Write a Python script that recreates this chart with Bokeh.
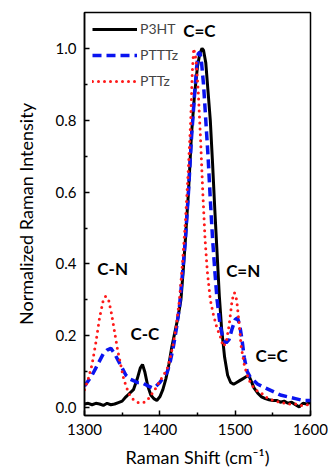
from bokeh.plotting import figure
from bokeh.models import Range1d, FixedTicker, Label, Legend, LegendItem
from bokeh.embed import file_html
from bokeh.resources import INLINE

# ---------------- data ----------------
p3ht_x = [1300, 1305, 1310, 1315, 1320, 1325, 1330, 1335, 1340, 1345, 1350, 1355,
          1360, 1365, 1370, 1374, 1377, 1380, 1384, 1388, 1392, 1396, 1400, 1404,
          1408, 1412, 1416, 1420, 1424, 1428, 1431, 1434, 1438, 1442, 1446, 1450,
          1453, 1456, 1458, 1461, 1464, 1467, 1470, 1473, 1476, 1479, 1482, 1486,
          1490, 1494, 1498, 1502, 1506, 1510, 1514, 1518, 1521, 1525, 1530, 1535,
          1540, 1545, 1550, 1555, 1560, 1565, 1570, 1575, 1580, 1585, 1590, 1595, 1600]
p3ht_y = [0.010, 0.012, 0.008, 0.012, 0.010, 0.006, 0.012, 0.008, 0.010, 0.014, 0.018, 0.030,
          0.040, 0.050, 0.080, 0.110, 0.120, 0.100, 0.060, 0.035, 0.025, 0.020, 0.030, 0.050,
          0.080, 0.120, 0.170, 0.210, 0.250, 0.300, 0.380, 0.470, 0.600, 0.760, 0.870, 0.950,
          0.985, 1.000, 0.995, 0.960, 0.880, 0.800, 0.680, 0.550, 0.430, 0.310, 0.220, 0.140,
          0.090, 0.070, 0.065, 0.070, 0.075, 0.080, 0.085, 0.090, 0.075, 0.055, 0.040, 0.030,
          0.025, 0.022, 0.020, 0.020, 0.015, 0.018, 0.012, 0.015, 0.008, 0.002, 0.012, 0.010, 0.015]

ptttz_x = [1300, 1305, 1310, 1315, 1320, 1325, 1330, 1335, 1340, 1345, 1350, 1355,
           1360, 1365, 1370, 1375, 1380, 1385, 1390, 1395, 1400, 1405, 1410, 1414,
           1418, 1422, 1426, 1430, 1434, 1438, 1442, 1446, 1449, 1451, 1453, 1455,
           1458, 1461, 1464, 1467, 1470, 1473, 1476, 1480, 1484, 1488, 1492, 1496,
           1500, 1503, 1506, 1509, 1512, 1516, 1520, 1525, 1530, 1540, 1550, 1560,
           1570, 1580, 1590, 1600]
ptttz_y = [0.060, 0.075, 0.090, 0.110, 0.130, 0.150, 0.160, 0.165, 0.150, 0.130, 0.110, 0.090,
           0.080, 0.075, 0.070, 0.070, 0.065, 0.060, 0.055, 0.060, 0.070, 0.085, 0.100, 0.130,
           0.170, 0.220, 0.280, 0.370, 0.470, 0.600, 0.750, 0.870, 0.950, 0.985, 0.990, 0.970,
           0.900, 0.800, 0.700, 0.580, 0.470, 0.380, 0.300, 0.230, 0.190, 0.180, 0.190, 0.220,
           0.245, 0.250, 0.230, 0.190, 0.140, 0.100, 0.085, 0.075, 0.065, 0.055, 0.045, 0.035,
           0.030, 0.025, 0.020, 0.020]

pttz_x = [1300, 1305, 1310, 1315, 1320, 1325, 1328, 1332, 1336, 1340, 1344, 1348,
          1352, 1356, 1360, 1365, 1370, 1375, 1380, 1385, 1390, 1395, 1400, 1405,
          1410, 1414, 1418, 1422, 1426, 1430, 1434, 1438, 1441, 1443, 1445, 1448,
          1451, 1454, 1457, 1460, 1463, 1467, 1471, 1476, 1480, 1484, 1488, 1492,
          1496, 1499, 1502, 1505, 1508, 1512, 1516, 1520, 1525, 1530, 1535, 1540,
          1550, 1560, 1570, 1580, 1590, 1600]
pttz_y = [0.050, 0.080, 0.120, 0.180, 0.250, 0.300, 0.310, 0.300, 0.260, 0.210, 0.160, 0.120,
          0.080, 0.055, 0.035, 0.022, 0.015, 0.013, 0.015, 0.025, 0.040, 0.055, 0.075, 0.090,
          0.110, 0.140, 0.180, 0.230, 0.300, 0.400, 0.520, 0.670, 0.800, 0.930, 1.000, 0.970,
          0.880, 0.750, 0.600, 0.470, 0.380, 0.300, 0.260, 0.220, 0.200, 0.170, 0.180, 0.230,
          0.300, 0.320, 0.300, 0.240, 0.170, 0.120, 0.090, 0.070, 0.055, 0.045, 0.040, 0.030,
          0.020, 0.015, 0.010, 0.010, 0.005, 0.010]

series_names = ["P3HT", "PTTTz", "PTTz"]

x_ticks = [1300, 1400, 1500, 1600]
x_minor = [1350, 1450, 1550]
y_ticks = [0.0, 0.2, 0.4, 0.6, 0.8, 1.0]
y_minor = [0.1, 0.3, 0.5, 0.7, 0.9]

# annotation texts and their anchor points (data units, left / middle)
ann_text = ["C=C", "C-N", "C-C", "C=N", "C=C"]
ann_x = [1431, 1317, 1361, 1488, 1527]
ann_y = [1.05, 0.386, 0.205, 0.383, 0.144]

# ---------------- figure ----------------
FONT = "Lato"

p = figure(width=328, height=470, output_backend="svg", toolbar_location=None,
           x_range=Range1d(1300, 1600), y_range=Range1d(-0.022, 1.1),
           min_border_left=84, min_border_right=18, min_border_top=12, min_border_bottom=54)
p.background_fill_color = "white"
p.border_fill_color = "white"
p.xgrid.visible = False
p.ygrid.visible = False
p.outline_line_color = "black"
p.outline_line_width = 1.5
p.outline_line_alpha = 1.0

r1 = p.line(p3ht_x, p3ht_y, line_color="black", line_width=3)
r2 = p.line(ptttz_x, ptttz_y, line_color="#0a14f0", line_width=3.5, line_dash="9 5")
r3 = p.line(pttz_x, pttz_y, line_color="#ff1a1a", line_width=3, line_dash="0 6",
            line_cap="round")

for ax in (p.xaxis[0], p.yaxis[0]):
    ax.axis_line_width = 1.5
    ax.major_tick_line_width = 1.5
    ax.minor_tick_line_width = 1.5
    ax.major_tick_in = 5
    ax.major_tick_out = 0
    ax.minor_tick_in = 3
    ax.minor_tick_out = 0
    ax.major_label_text_font = FONT
    ax.major_label_text_font_size = "15px"
    ax.major_label_text_color = "black"
    ax.axis_label_text_font = FONT
    ax.axis_label_text_font_size = "18px"
    ax.axis_label_text_font_style = "normal"
    ax.axis_label_text_color = "black"

p.xaxis.ticker = FixedTicker(ticks=x_ticks, minor_ticks=x_minor)
p.yaxis.ticker = FixedTicker(ticks=y_ticks, minor_ticks=y_minor)
p.yaxis.major_label_overrides = {v: f"{v:.1f}" for v in y_ticks}
p.xaxis.major_label_standoff = 8
p.yaxis.major_label_standoff = 8
p.xaxis.axis_label = "Raman Shift (cm\u207b\u00b9)"
p.yaxis.axis_label = "Normalized Raman Intensity"
p.xaxis.axis_label_standoff = 8
p.yaxis.axis_label_standoff = 16

legend = Legend(items=[LegendItem(label=series_names[0], renderers=[r1]),
                       LegendItem(label=series_names[1], renderers=[r2]),
                       LegendItem(label=series_names[2], renderers=[r3])],
                location="top_left", glyph_width=45, glyph_height=16, label_height=16,
                label_standoff=3, spacing=9, margin=6, padding=2,
                label_text_font=FONT, label_text_font_size="14px",
                background_fill_alpha=0, border_line_alpha=0)
p.add_layout(legend)

for t, x, y in zip(ann_text, ann_x, ann_y):
    p.add_layout(Label(x=x, y=y, text=t, text_font=FONT, text_font_size="17px",
                       text_font_style="bold", text_align="left",
                       text_baseline="middle", text_color="black"))

open("out.html", "w").write(file_html(p, INLINE))
